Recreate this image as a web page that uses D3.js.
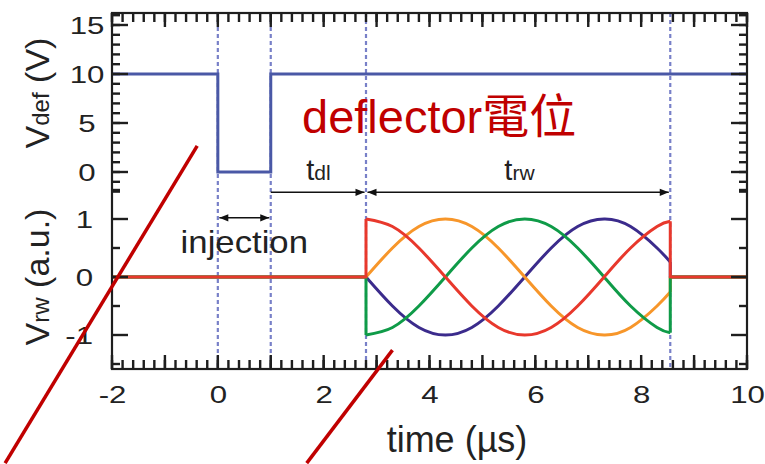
<!DOCTYPE html>
<html>
<head>
<meta charset="utf-8">
<script src="https://cdn.jsdelivr.net/npm/d3@7"></script>
<style>
  body { margin: 0; background: #fff; }
  svg { display: block; font-family: "Liberation Sans", Arial, sans-serif; }
</style>
</head>
<body>
<svg id="chart"></svg>
<script>
const width = 765, height = 464;

// deflector voltage (µs, V)
const defTimes = [-2, 0, 0, 1, 1, 10];
const defVolts = [10, 10, 0, 0, 10, 10];

const rwTimes  = [2.8, 3.3, 3.8, 4.3, 4.8, 5.3, 5.8, 6.3, 6.8, 7.3, 7.8, 8.3, 8.55];
const rwRed    = [1, 0.87, 0.5, 0, -0.5, -0.87, -1, -0.87, -0.5, 0, 0.5, 0.87, 0.96];
const rwOrange = [0, 0.5, 0.87, 1, 0.87, 0.5, 0, -0.5, -0.87, -1, -0.87, -0.5, -0.26];
const rwGreen  = [-1, -0.87, -0.5, 0, 0.5, 0.87, 1, 0.87, 0.5, 0, -0.5, -0.87, -0.96];
const rwBlue   = [0, -0.5, -0.87, -1, -0.87, -0.5, 0, 0.5, 0.87, 1, 0.87, 0.5, 0.26];

// timing markers (µs): injection start/end, rw start/end
const markerTimes = [0, 1, 2.8, 8.55];

const xLabels = [-2, 0, 2, 4, 6, 8, 10];
const defLabels = [0, 5, 10, 15];
const rwLabels = [-1, 0, 1];

// red slide strokes, in (µs, a.u.) units
const overlayLines = [
  [[-0.39, 2.26], [-4.02, -3.21]],
  [[3.3, -1.26], [1.68, -3.21]]
];

const svg = d3.select("#chart").attr("width", width).attr("height", height);
svg.append("rect").attr("width", width).attr("height", height).attr("fill", "#fff");

const frameL = 112, frameR = 747, frameT = 13, frameB = 369;

const x = d3.scaleLinear().domain([-2, 10]).range([frameL, frameR]);
const yDef = d3.scaleLinear().domain([0, 15]).range([172, 25]);
const yRw = d3.scaleLinear().domain([-1, 1]).range([335, 219]);

const axisColor = "#1e1e1e";
const font = "Liberation Sans, Arial, sans-serif";

// dashed timing lines
svg.append("g").selectAll("line")
  .data(markerTimes)
  .join("line")
  .attr("x1", d => x(d)).attr("x2", d => x(d))
  .attr("y1", frameT).attr("y2", frameB)
  .attr("stroke", "#7880c8")
  .attr("stroke-width", 2.2)
  .attr("stroke-dasharray", "4,3");

// tick labels through d3 axes
const xLab = svg.append("g").attr("transform", `translate(0,${frameB})`)
  .call(d3.axisBottom(x).tickValues(xLabels).tickSize(0).tickFormat(d => String(d)));
xLab.select(".domain").remove();
xLab.selectAll("text")
  .attr("y", 0).attr("dy", 0)
  .attr("transform", "translate(0,34) scale(1.3,1)")
  .attr("font-size", 24).attr("font-family", font)
  .attr("fill", "#222");

const defLab = svg.append("g").attr("transform", `translate(${frameL},0)`)
  .call(d3.axisLeft(yDef).tickValues(defLabels).tickSize(0).tickFormat(d => String(d)));
defLab.select(".domain").remove();
defLab.selectAll("text")
  .attr("x", 0).attr("dy", "0.36em")
  .attr("text-anchor", "middle")
  .attr("transform", "translate(-25,0) scale(1.3,1)")
  .attr("font-size", 24).attr("font-family", font)
  .attr("fill", "#222");

const rwLab = svg.append("g").attr("transform", `translate(${frameL},0)`)
  .call(d3.axisLeft(yRw).tickValues(rwLabels).tickSize(0).tickFormat(d => String(d)));
rwLab.select(".domain").remove();
rwLab.selectAll("text")
  .attr("x", 0).attr("dy", "0.36em")
  .attr("text-anchor", "end")
  .attr("transform", "translate(-19,0) scale(1.3,1)")
  .attr("font-size", 24).attr("font-family", font)
  .attr("fill", "#222");

// deflector voltage
const defLine = d3.line().x(d => x(d[0])).y(d => yDef(d[1]));
svg.append("path")
  .attr("d", defLine(d3.zip(defTimes, defVolts)))
  .attr("fill", "none").attr("stroke", "#4a58a6").attr("stroke-width", 3);

// rotating wall signals
const linLine = d3.line().x(d => x(d[0])).y(d => yRw(d[1]));
const sinLine = d3.line().x(d => x(d[0])).y(d => yRw(d[1])).curve(d3.curveNatural);
const t0 = rwTimes[0], t1 = rwTimes[rwTimes.length - 1];
const series = [
  { vals: rwBlue, color: "#3b2b8c" },
  { vals: rwOrange, color: "#f7962a" },
  { vals: rwGreen, color: "#0f9b48" },
  { vals: rwRed, color: "#e8382c" }
];
series.forEach(s => {
  const g = svg.append("g").attr("fill", "none").attr("stroke", s.color)
    .attr("stroke-width", 3).attr("stroke-linejoin", "round");
  g.append("path").attr("d", linLine([[-2, 0], [t0, 0], [t0, s.vals[0]]]));
  g.append("path").attr("d", sinLine(d3.zip(rwTimes, s.vals)));
  g.append("path").attr("d", linLine([[t1, s.vals[s.vals.length - 1]], [t1, 0], [10, 0]]));
});

// inward ticks on all four sides, drawn as small filled rects
const xMinor = d3.range(-10, 51).map(i => i / 5);
const xMajor = d3.range(-2, 11);
const defMinor = d3.range(-2, 17);
const rwMinor = [-1.5, -0.5, 0.5, 1.5];
const tw = 2.4;

const hTicks = [];
[[xMinor, 9], [xMajor, 14]].forEach(([vals, len]) => vals.forEach(v => {
  hTicks.push({ px: x(v), py: frameB - len, len });
  hTicks.push({ px: x(v), py: frameT, len });
}));
const vTicks = [];
[[yDef, defMinor, 8], [yDef, defLabels, 16], [yRw, rwMinor, 8], [yRw, rwLabels, 16]]
  .forEach(([scale, vals, len]) => vals.forEach(v => {
    vTicks.push({ px: frameL, py: scale(v), len });
    vTicks.push({ px: frameR - len, py: scale(v), len });
  }));

const tickG = svg.append("g").attr("fill", axisColor);
tickG.selectAll("rect.h")
  .data(hTicks).join("rect").attr("class", "h")
  .attr("x", d => d.px - tw / 2).attr("y", d => d.py)
  .attr("width", tw).attr("height", d => d.len);
tickG.selectAll("rect.v")
  .data(vTicks).join("rect").attr("class", "v")
  .attr("x", d => d.px).attr("y", d => d.py - tw / 2)
  .attr("width", d => d.len).attr("height", tw);

svg.append("rect")
  .attr("x", frameL).attr("y", frameT)
  .attr("width", frameR - frameL).attr("height", frameB - frameT)
  .attr("fill", "none").attr("stroke", axisColor).attr("stroke-width", 2.2);

// arrows
const defs = svg.append("defs");
defs.append("marker")
  .attr("id", "arr").attr("markerUnits", "userSpaceOnUse")
  .attr("viewBox", "0 -5 10 10").attr("refX", 10).attr("refY", 0)
  .attr("markerWidth", 11).attr("markerHeight", 9)
  .attr("orient", "auto-start-reverse")
  .append("path").attr("d", "M0,-4L10,0L0,4Z").attr("fill", "#111");

const arrows = [
  { a: 0, b: 1, y: 1.02, start: true },
  { a: 1, b: 2.8, y: 1.46, start: false },
  { a: 2.8, b: 8.55, y: 1.46, start: true }
];
svg.append("g").selectAll("line")
  .data(arrows)
  .join("line")
  .attr("x1", d => x(d.a) + (d.start ? 1.5 : 0))
  .attr("x2", d => x(d.b) - 1.5)
  .attr("y1", d => yRw(d.y)).attr("y2", d => yRw(d.y))
  .attr("stroke", "#111").attr("stroke-width", 1.5)
  .attr("marker-start", d => d.start ? "url(#arr)" : null)
  .attr("marker-end", "url(#arr)");

// annotation texts
function subLabel(xx, yy, main, sub, fs, subFs) {
  const t = svg.append("text")
    .attr("x", xx).attr("y", yy)
    .attr("text-anchor", "middle").attr("fill", "#222")
    .attr("font-size", fs);
  t.append("tspan").text(main);
  t.append("tspan").attr("font-size", subFs).text(sub);
  return t;
}
subLabel(x(1.9), 180, "t", "dl", 29, 21);
subLabel(x(5.7), 180, "t", "rw", 29, 21);

svg.append("text")
  .attr("transform", `translate(${x(0.5)},253) scale(1.12,1)`)
  .attr("text-anchor", "middle").attr("fill", "#222")
  .attr("font-size", 31).text("injection");

// axis titles
function vTitle(cy, main, sub, rest) {
  const t = svg.append("text")
    .attr("transform", `translate(49,${cy}) rotate(-90)`)
    .attr("text-anchor", "middle").attr("fill", "#222")
    .attr("font-size", 34);
  t.append("tspan").text(main);
  t.append("tspan").attr("font-size", 24).text(sub);
  t.append("tspan").text(rest);
}
vTitle(93, "V", "def", " (V)");
vTitle(277, "V", "rw", " (a.u.)");

svg.append("text")
  .attr("x", 457).attr("y", 452)
  .attr("text-anchor", "middle").attr("fill", "#222")
  .attr("font-size", 36).text("time (\u00b5s)");

// slide overlay
svg.append("g").selectAll("line")
  .data(overlayLines)
  .join("line")
  .attr("x1", d => x(d[0][0])).attr("y1", d => yRw(d[0][1]))
  .attr("x2", d => x(d[1][0])).attr("y2", d => yRw(d[1][1]))
  .attr("stroke", "#c00000").attr("stroke-width", 3.5);

svg.append("text")
  .attr("x", 302).attr("y", 133)
  .attr("font-size", 47).attr("fill", "#c00000")
  .attr("font-family", "Liberation Sans, 'Noto Sans CJK TC', sans-serif")
  .text("deflector\u96fb\u4f4d");
</script>
</body>
</html>
